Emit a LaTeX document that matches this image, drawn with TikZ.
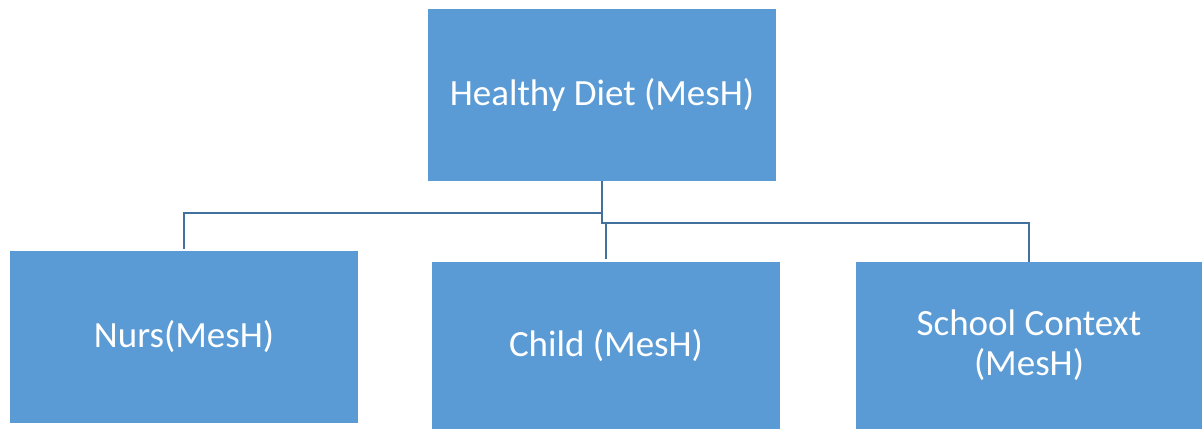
\documentclass[tikz,border=0pt]{standalone}
\usepackage{fontspec}
\setmainfont{Carlito}
\usepackage{tikz}
\usetikzlibrary{positioning}
\definecolor{boxblue}{HTML}{5B9BD5}
\definecolor{linkblue}{HTML}{41719C}

\begin{document}
\begin{tikzpicture}[x=1pt,y=-1pt,
    box/.style={fill=boxblue,draw=none,text=white,minimum width=348pt,
      inner sep=0pt,align=center,font=\fontsize{37}{40}\selectfont},
    link/.style={draw=linkblue,line width=2.5pt}]
    \useasboundingbox (0,0) rectangle (1202,430);
    \node[box,minimum height=172pt] (diet) at (602,95) {Healthy Diet (MesH)};
    \node[box,minimum height=172pt] (nurs) at (184,337) {Nurs(MesH)};
    \node[box,minimum height=167pt] (child) at (606,345.5) {Child (MesH)};
    \node[box,minimum height=167pt,minimum width=346pt] (school) at (1029,345.5) {School Context\\(MesH)};
    \path[link,shorten >=2pt]
      (diet.south) -- ++(0,32) -| (nurs.north);
    \path[link,shorten >=3pt]
      (diet.south) -- ++(0,42) coordinate (fork) -| (school.north)
      (child.north |- fork) -- (child.north);
  \end{tikzpicture}
\end{document}
